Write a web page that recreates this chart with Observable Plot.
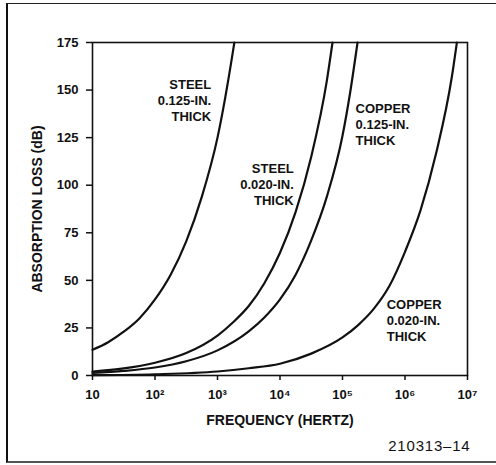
<!DOCTYPE html>
<html><head><meta charset="utf-8">
<script src="https://cdn.jsdelivr.net/npm/d3@7"></script>
<script src="https://cdn.jsdelivr.net/npm/@observablehq/plot@0.6"></script>
<style>
body{margin:0;background:#fff;}
#wrap{position:relative;width:496px;height:465px;overflow:hidden;background:#fff;}
#border{position:absolute;left:6px;top:3px;width:520px;height:457px;border-left:2.5px solid #111;border-top:1.5px solid #222;border-bottom:2px solid #555;pointer-events:none;}
#wrap svg{position:absolute;left:0;top:0;}
</style></head><body><div id="wrap"><div id="border"></div></div>
<script>
// Steel 0.125-in. thick
const steel125Freq = [10, 17.8, 31.6, 56.2, 100, 178, 316, 562, 1000, 1780, 1860];
const steel125Loss = [13.5, 17.5, 23, 30, 40, 53, 70.5, 94, 125, 171, 175];
// Steel 0.020-in. thick
const steel020Freq = [10, 31.6, 100, 316, 1000, 1780, 3160, 5620, 10000, 17800, 31600, 56200, 69200];
const steel020Loss = [2.1, 3.7, 6.7, 11.8, 21, 28, 36.5, 48.5, 64.5, 86, 115, 155, 175];
// Copper 0.125-in. thick
const copper125Freq = [10, 31.6, 100, 316, 1000, 3160, 5620, 10000, 17800, 31600, 56200, 100000, 133000, 174000];
const copper125Loss = [1.3, 2.4, 4.2, 7.5, 13.2, 23.2, 30.5, 40, 53, 71, 94, 126, 149, 175];
// Copper 0.020-in. thick
const copper020Freq = [10, 100, 1000, 3160, 10000, 31600, 100000, 178000, 316000, 562000, 1000000, 1780000, 3160000, 5620000, 6760000];
const copper020Loss = [0.2, 0.67, 2.1, 3.8, 6.2, 11.5, 20, 26.5, 35, 47, 65, 87, 117, 157, 175];

const seriesNames = ["STEEL 0.125", "STEEL 0.020", "COPPER 0.125", "COPPER 0.020"];
const labelTexts = ["STEEL\n0.125-IN.\nTHICK", "STEEL\n0.020-IN.\nTHICK", "COPPER\n0.125-IN.\nTHICK", "COPPER\n0.020-IN.\nTHICK"];
const labelFreq = [794, 16600, 162000, 510000];
const labelLoss = [145, 100.5, 132.4, 29.4];
const labelAnchor = ["end", "end", "start", "start"];

const yTicks = [0, 25, 50, 75, 100, 125, 150, 175];
const xTicks = [10, 100, 1000, 10000, 100000, 1000000, 10000000];
const xTickLabels = ["10", "10²", "10³", "10⁴", "10⁵", "10⁶", "10⁷"];
const yTitle = "ABSORPTION LOSS (dB)";
const xTitle = "FREQUENCY (HERTZ)";
const figCode = "210313–14";

const freqs = [steel125Freq, steel020Freq, copper125Freq, copper020Freq];
const losses = [steel125Loss, steel020Loss, copper125Loss, copper020Loss];
const rows = [];
seriesNames.forEach((s, k) => freqs[k].forEach((f, i) => rows.push({series: s, f, loss: losses[k][i]})));
const labels = labelTexts.map((t, i) => ({text: t, f: labelFreq[i], loss: labelLoss[i], anchor: labelAnchor[i]}));

const font = "'Liberation Sans', Arial, Helvetica, sans-serif";
const labelStyle = {x: "f", y: "loss", text: "text", fontSize: 13, fontWeight: "bold", lineHeight: 1.23, fill: "#111"};
const chart = Plot.plot({
  width: 496, height: 465,
  marginLeft: 92, marginRight: 29, marginTop: 42, marginBottom: 90,
  style: {fontFamily: font, background: "transparent", color: "#111", fontSize: "13px"},
  x: {type: "log", domain: [10, 1e7]},
  y: {domain: [0, 175]},
  marks: [
    Plot.frame({stroke: "#111", strokeWidth: 1.6}),
    Plot.axisY({ticks: yTicks, tickSize: 6, tickPadding: 8, fontSize: 13, fontWeight: "bold", strokeWidth: 1.5,
      label: yTitle, labelAnchor: "center", labelOffset: 60, labelArrow: "none"}),
    Plot.axisX({ticks: xTicks, tickFormat: d => xTickLabels[xTicks.indexOf(d)], tickSize: 5, tickPadding: 9,
      fontSize: 13, fontWeight: "bold", strokeWidth: 1.5,
      label: xTitle, labelAnchor: "center", labelOffset: 49, labelArrow: "none"}),
    Plot.line(rows, {x: "f", y: "loss", z: "series", curve: "monotone-x", stroke: "#111", strokeWidth: 2.2}),
    Plot.text(labels.filter(d => d.anchor === "end"), {...labelStyle, textAnchor: "end"}),
    Plot.text(labels.filter(d => d.anchor === "start"), {...labelStyle, textAnchor: "start"}),
    Plot.text([figCode], {frameAnchor: "bottom-right", dx: 3, dy: 75, fontSize: 15, fill: "#111", fontFamily: font})
  ]
});
chart.querySelectorAll("text").forEach(t => {
  if (t.textContent === yTitle || t.textContent === xTitle) { t.style.fontSize = "14px"; t.style.fontWeight = "bold"; }
  if (t.textContent === figCode) { t.style.letterSpacing = "0.8px"; }
});
document.getElementById("wrap").prepend(chart);
</script>
</body></html>
